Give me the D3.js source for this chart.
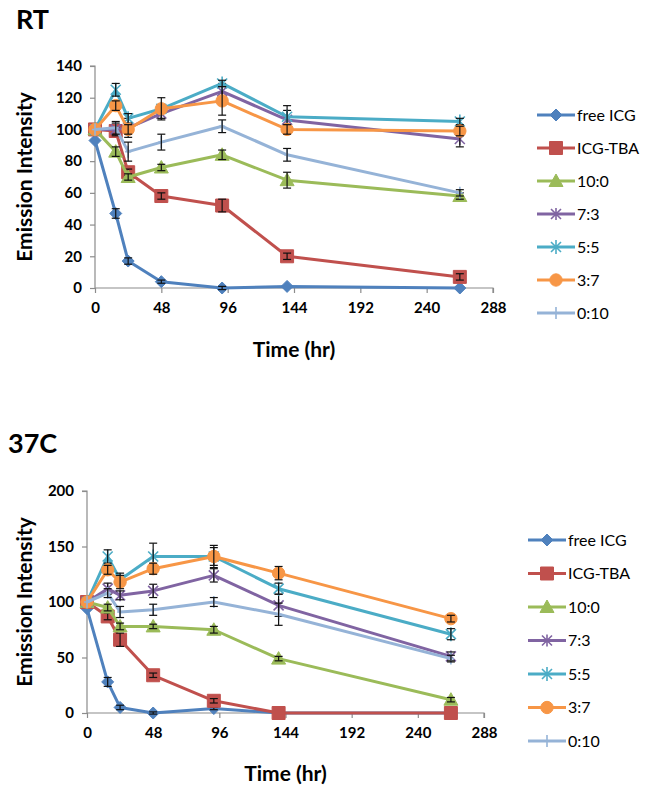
<!DOCTYPE html>
<html>
<head>
<meta charset="utf-8">
<script src="https://cdn.jsdelivr.net/npm/d3@7"></script>
<style>
  html, body { margin: 0; padding: 0; background: #fff; }
  svg { display: block; font-family: Lato, "Open Sans", sans-serif; }
</style>
</head>
<body>
<svg id="chart" width="646" height="797"></svg>
<script>
// ---- data ----
const seriesNames = ["free ICG", "ICG-TBA", "10:0", "7:3", "5:5", "3:7", "0:10"];
const timesHr = [0, 15, 24, 48, 92, 139, 264];
const xTicks = [0, 48, 96, 144, 192, 240, 288];

// RT panel
const rtTicksY = [0, 20, 40, 60, 80, 100, 120, 140];
const rtFreeICG = [93, 47, 17, 4, 0, 1, 0];
const rtICGTBA = [100, 99, 73, 58, 52, 20, 7];
const rt10_0 = [100, 86, 70, 76, 84, 68, 58];
const rt7_3 = [100, 100, 101, 110, 124, 106, 94];
const rt5_5 = [100, 125, 107, 113, 129, 108, 105];
const rt3_7 = [100, 115, 100, 113, 118, 100, 99];
const rt0_10 = [100, 101, 86, 92, 102, 84, 60];
const rtErrFreeICG = [0, 3, 2, 1, 1, 0, 0];
const rtErrICGTBA = [0, 2, 2, 2, 4, 2, 2];
const rtErr10_0 = [0, 3, 2, 2, 3, 5, 2];
const rtErr7_3 = [0, 4, 6, 3, 5, 6, 5];
const rtErr5_5 = [0, 4, 3, 2, 2, 7, 2];
const rtErr3_7 = [0, 3, 3, 7, 9, 3, 3];
const rtErr0_10 = [0, 4, 6, 5, 4, 4, 2];

// 37C panel
const hotTicksY = [0, 50, 100, 150, 200];
const hotFreeICG = [94, 28, 5, 0, 4, 0, 0];
const hotICGTBA = [100, 87, 66, 34, 11, 0, 0];
const hot10_0 = [100, 95, 78, 78, 75, 49, 12];
const hot7_3 = [100, 112, 106, 110, 124, 97, 51];
const hot5_5 = [100, 141, 120, 141, 141, 112, 71];
const hot3_7 = [100, 129, 118, 130, 141, 126, 85];
const hot0_10 = [100, 108, 91, 93, 100, 89, 49];
const hotErrFreeICG = [0, 4, 2, 1, 1, 0, 0];
const hotErrICGTBA = [0, 3, 6, 2, 2, 0, 0];
const hotErr10_0 = [0, 3, 3, 2, 3, 2, 2];
const hotErr7_3 = [0, 5, 4, 6, 6, 10, 4];
const hotErr5_5 = [0, 6, 6, 12, 8, 5, 5];
const hotErr3_7 = [0, 4, 6, 5, 10, 6, 3];
const hotErr0_10 = [0, 4, 5, 5, 4, 10, 3];

const colors = ["#4f81bd", "#c0504d", "#9bbb59", "#8064a2", "#4bacc6", "#f79646", "#95b3d7"];
const shapes = ["diamond", "square", "triangle", "x", "star", "circle", "plus"];

const svg = d3.select("#chart");

function markerPath(shape) {
  switch (shape) {
    case "diamond": return "M0,-6L6,0L0,6L-6,0Z";
    case "square": return "M-6.5,-6.5H6.5V6.5H-6.5Z";
    case "triangle": return "M0,-7L7,5.5H-7Z";
    case "circle": return d3.symbol(d3.symbolCircle, 120)();
    case "x": return "M-5,-5L5,5M-5,5L5,-5M0,-6V6";
    case "star": return "M-5,-5L5,5M-5,5L5,-5M0,-7V7";
    case "plus": return "M0,-6V6M-3,0H3";
  }
}

function drawMarker(g, shape, color, x, y) {
  const filled = ["diamond", "square", "triangle", "circle"].includes(shape);
  g.append("path")
    .attr("transform", `translate(${x},${y})`)
    .attr("d", markerPath(shape))
    .attr("fill", filled ? color : "none")
    .attr("stroke", color)
    .attr("stroke-width", filled ? 1 : 1.6);
}

function drawPanel(cfg) {
  const x = d3.scaleLinear().domain([0, 288]).range([cfg.left, cfg.right]);
  const y = d3.scaleLinear().domain([0, cfg.yMax]).range([cfg.bottom, cfg.top]);
  const g = svg.append("g");

  // title
  g.append("text").attr("x", cfg.titleX).attr("y", cfg.titleY)
    .attr("font-size", 27).attr("font-weight", 700).attr("fill", "#000").text(cfg.title);

  // axes
  const yAxis = d3.axisLeft(y).tickValues(cfg.yTicks).tickSize(5).tickPadding(8).tickFormat(d3.format("d"));
  const xAxis = d3.axisBottom(x).tickValues(xTicks).tickSize(5).tickPadding(9).tickFormat(d3.format("d"));
  const ya = g.append("g").attr("transform", `translate(${cfg.left},0)`).call(yAxis);
  const xa = g.append("g").attr("transform", `translate(0,${cfg.bottom})`).call(xAxis);
  [ya, xa].forEach(a => {
    a.select(".domain").attr("stroke", "#8c8c8c").attr("stroke-width", 1.2);
    a.selectAll(".tick line").attr("stroke", "#8c8c8c").attr("stroke-width", 1.2);
    a.selectAll(".tick text").attr("font-size", 15).attr("font-weight", 700)
      .attr("fill", "#000").attr("font-family", "Lato, sans-serif");
  });
  ya.select(".domain").attr("d", `M-5,${cfg.top}H0V${cfg.bottom}`);
  xa.select(".domain").attr("d", `M${cfg.left},0H${cfg.right}V5`);

  // axis titles
  g.append("text")
    .attr("transform", `translate(${cfg.yLabelX},${(cfg.top + cfg.bottom) / 2}) rotate(-90)`)
    .attr("text-anchor", "middle").attr("font-size", 21).attr("font-weight", 700)
    .text("Emission Intensity");
  g.append("text")
    .attr("x", (cfg.left + cfg.right) / 2).attr("y", cfg.xLabelY)
    .attr("text-anchor", "middle").attr("font-size", 21).attr("font-weight", 700)
    .text("Time (hr)");

  const line = d3.line().x((d, i) => x(timesHr[i])).y(d => y(d));

  cfg.series.forEach((vals, si) => {
    const sg = g.append("g");
    sg.append("path").attr("d", line(vals)).attr("fill", "none")
      .attr("stroke", colors[si]).attr("stroke-width", 3).attr("stroke-linejoin", "round");
    vals.forEach((v, i) => drawMarker(sg, shapes[si], colors[si], x(timesHr[i]), y(v)));
    const errs = cfg.errors[si];
    vals.forEach((v, i) => {
      const e = errs[i];
      if (!e) return;
      const cx = x(timesHr[i]);
      const eg = sg.append("g").attr("stroke", "#111").attr("stroke-width", 1.2);
      eg.append("line").attr("x1", cx).attr("x2", cx).attr("y1", y(v - e)).attr("y2", y(v + e));
      eg.append("line").attr("x1", cx - 4).attr("x2", cx + 4).attr("y1", y(v - e)).attr("y2", y(v - e));
      eg.append("line").attr("x1", cx - 4).attr("x2", cx + 4).attr("y1", y(v + e)).attr("y2", y(v + e));
    });
  });

  // legend
  const lg = g.append("g");
  seriesNames.forEach((name, si) => {
    const ly = cfg.legendY + si * cfg.legendStep;
    lg.append("line").attr("x1", cfg.legendX).attr("x2", cfg.legendX + 38)
      .attr("y1", ly).attr("y2", ly).attr("stroke", colors[si]).attr("stroke-width", 3);
    drawMarker(lg, shapes[si], colors[si], cfg.legendX + 19, ly);
    lg.append("text").attr("x", cfg.legendX + 40).attr("y", ly).attr("dy", "0.35em")
      .attr("font-size", 16).attr("fill", "#000").text(name);
  });
}

drawPanel({
  title: "RT", titleX: 16, titleY: 29,
  left: 95, right: 493, top: 66, bottom: 288, yMax: 140, yTicks: rtTicksY,
  yLabelX: 32, xLabelY: 357,
  series: [rtFreeICG, rtICGTBA, rt10_0, rt7_3, rt5_5, rt3_7, rt0_10],
  errors: [rtErrFreeICG, rtErrICGTBA, rtErr10_0, rtErr7_3, rtErr5_5, rtErr3_7, rtErr0_10],
  legendX: 537, legendY: 115, legendStep: 33
});

drawPanel({
  title: "37C", titleX: 8, titleY: 453,
  left: 87, right: 484, top: 491, bottom: 713, yMax: 200, yTicks: hotTicksY,
  yLabelX: 32, xLabelY: 781,
  series: [hotFreeICG, hotICGTBA, hot10_0, hot7_3, hot5_5, hot3_7, hot0_10],
  errors: [hotErrFreeICG, hotErrICGTBA, hotErr10_0, hotErr7_3, hotErr5_5, hotErr3_7, hotErr0_10],
  legendX: 528, legendY: 540, legendStep: 33.5
});
</script>
</body>
</html>
